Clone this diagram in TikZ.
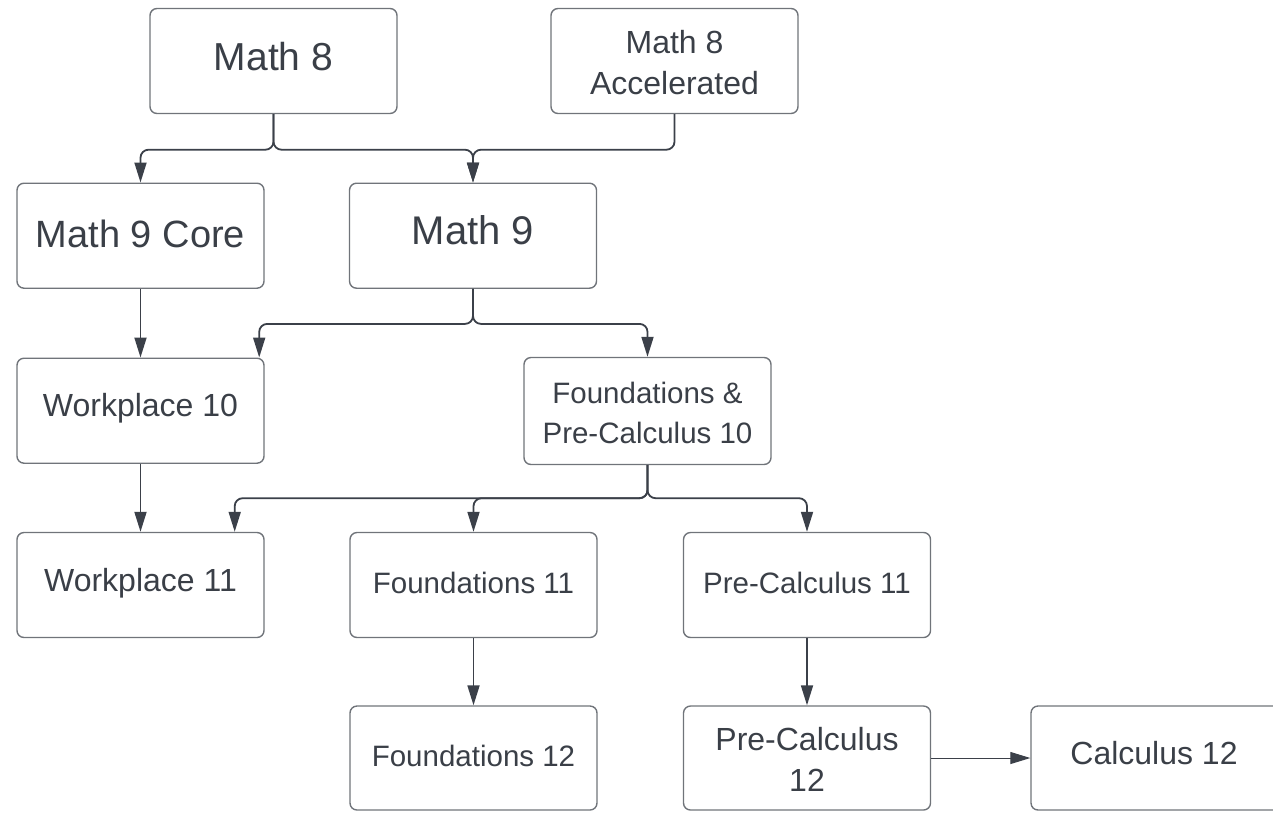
\documentclass[tikz,border=0pt]{standalone}
\usepackage{fontspec}
\setmainfont{Liberation Sans}
\usetikzlibrary{arrows.meta}
\definecolor{txtc}{HTML}{3A3F47}
\definecolor{bordc}{HTML}{70747A}
\definecolor{linec}{HTML}{3B4049}
\begin{document}
\begin{tikzpicture}[x=1pt,y=-1pt,
  box/.style={draw=bordc, line width=1.4pt, rounded corners=7pt, inner sep=0pt,
              minimum width=247pt, minimum height=105pt},
  lbl/.style={text=txtc, anchor=base, inner sep=0pt, font=\fontsize{#1}{#1}\selectfont},
  conn/.style={draw=linec, line width=1.8pt, rounded corners=8pt, -{Triangle[length=20pt,width=12pt]}},
]
\useasboundingbox (0,0) rectangle (1273,812);
\clip (0,0) rectangle (1273,812);

% boxes
\node[box] (m8)    at (273.5,61)   {};
\node[box] (m8a)   at (674.5,61)   {};
\node[box] (m9c)   at (140.5,235.7) {};
\node[box] (m9)    at (473,235.7)  {};
\node[box] (w10)   at (140.5,410.7) {};
\node[box, minimum height=107pt] (fpc10) at (647.5,411) {};
\node[box] (w11)   at (140.5,585)  {};
\node[box] (f11)   at (473.5,585)  {};
\node[box] (pc11)  at (807,585)    {};
\node[box, minimum height=104pt] (f12)   at (473.5,758)  {};
\node[box, minimum height=104pt] (pc12)  at (807,758)    {};
\node[box, minimum height=104pt, minimum width=259pt] (calc) at (1160.5,758) {};

% labels
\node[lbl=39] (t8)    at (273.5,70)  {Math 8};
\node[lbl=32] (t8a1)  at (674.5,53)  {Math 8};
\node[lbl=32] (t8a2)  at (674.5,94)  {Accelerated};
\node[lbl=38] (t9c)   at (140.5,247) {Math 9 Core};
\node[lbl=40] (t9)    at (473,244)   {Math 9};
\node[lbl=32] (tw10)  at (140.5,416) {Workplace 10};
\node[lbl=29.5] (tf1) at (647.5,403) {Foundations \&};
\node[lbl=29.5] (tf2) at (647.5,443) {Pre-Calculus 10};
\node[lbl=32] (tw11)  at (140.5,591) {Workplace 11};
\node[lbl=29.5] (tf11) at (473.5,593) {Foundations 11};
\node[lbl=29.5] (tp11) at (807,593)  {Pre-Calculus 11};
\node[lbl=29.5] (tf12) at (473.5,766) {Foundations 12};
\node[lbl=32] (tp12a) at (807,750)   {Pre-Calculus};
\node[lbl=32] (tp12b) at (807,791)   {12};
\node[lbl=32] (tc12)  at (1154,764)  {Calculus 12};

% connectors
\draw[conn] (m8.south) -- ++(0,35.5) -| (m9c.north);
\draw[conn] (m8.south) -- ++(0,35.5) -| (m9.north);
\draw[conn] (m8a.south) -- ++(0,35.5) -| (m9.north);
\draw[conn] (m9c.south) -- (w10.north);
\draw[conn] (m9.south) -- ++(0,35) -| ([xshift=-5.5pt]w10.north east);
\draw[conn] (m9.south) -- ++(0,35) -| (fpc10.north);
\draw[conn] (w10.south) -- (w11.north);
\draw[conn] (fpc10.south) -- ++(0,33) -| ([xshift=-30pt]w11.north east);
\draw[conn] (fpc10.south) -- ++(0,33) -| (f11.north);
\draw[conn] (fpc10.south) -- ++(0,33) -| (pc11.north);
\draw[conn] (f11.south) -- (f12.north);
\draw[conn] (pc11.south) -- (pc12.north);
\draw[conn, line width=1pt] (pc12.east) -- (calc.west);
\end{tikzpicture}
\end{document}
